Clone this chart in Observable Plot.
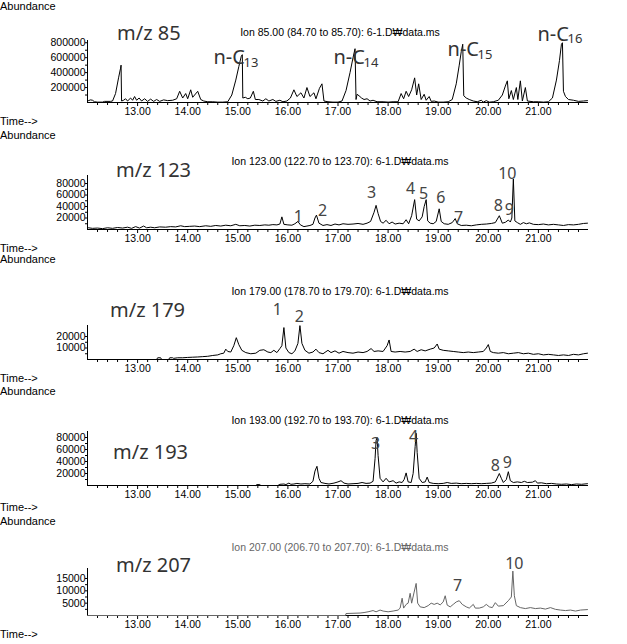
<!DOCTYPE html>
<html><head><meta charset="utf-8">
<script src="https://cdn.jsdelivr.net/npm/d3@7"></script>
<script src="https://cdn.jsdelivr.net/npm/@observablehq/plot@0.6"></script>
<style>
body{margin:0;background:#fff;}
#root{position:relative;width:627px;height:644px;overflow:hidden;background:#fff;}
.pl{position:absolute;left:0;}
.t{position:absolute;white-space:nowrap;line-height:1;}
</style></head>
<body><div id="root"></div>
<script>
// ---------- data ----------
const X_MAJOR = [13, 14, 15, 16, 17, 18, 19, 20, 21];
const X_LABELS = ["13.00","14.00","15.00","16.00","17.00","18.00","19.00","20.00","21.00"];
const X_MINOR = d3.range(61, 110).filter(i => i % 5 !== 0).map(i => i / 5);

const Y85 = [200000, 400000, 600000, 800000];
const Y123 = [20000, 40000, 60000, 80000];
const Y179 = [10000, 20000];
const Y193 = [20000, 40000, 60000, 80000];
const Y207 = [5000, 10000, 15000];

const mz85 = [[12.02,25000],[12.06,35000],[12.10,30000],[12.14,10000],[12.20,5000],[12.30,5000],[12.34,15000],[12.46,15000],[12.50,20000],
[12.56,120000],[12.62,330000],[12.66,460000],[12.67,500000],[12.68,20000],[12.72,30000],[12.76,50000],[12.80,20000],[12.86,60000],[12.90,30000],[12.94,80000],[12.98,30000],[13.03,60000],[13.08,20000],[13.14,50000],[13.20,15000],[13.26,45000],[13.32,15000],[13.38,40000],[13.44,15000],[13.52,35000],[13.60,25000],[13.70,30000],[13.78,50000],[13.84,150000],[13.90,60000],[13.96,120000],[14.00,50000],[14.06,170000],[14.10,70000],[14.20,150000],[14.26,40000],[14.32,20000],[14.40,10000],[14.50,10000],[14.60,5000],[14.70,5000],[14.80,10000],[14.88,100000],[14.96,300000],[15.02,480000],[15.07,620000],[15.09,640000],[15.10,60000],[15.15,70000],[15.20,50000],[15.25,60000],[15.31,150000],[15.35,40000],[15.42,40000],[15.50,20000],[15.56,50000],[15.62,20000],[15.70,40000],[15.76,15000],[15.84,30000],[15.90,10000],[15.98,20000],[16.05,60000],[16.12,170000],[16.18,80000],[16.26,130000],[16.32,60000],[16.38,200000],[16.44,80000],[16.52,130000],[16.56,50000],[16.63,190000],[16.68,250000],[16.72,20000],[16.80,10000],[16.90,5000],[17.00,5000],[17.08,20000],[17.16,160000],[17.24,400000],[17.30,600000],[17.34,720000],[17.36,40000],
[17.38,110000],[17.42,90000],[17.47,60000],[17.52,40000],[17.58,50000],[17.64,20000],[17.70,30000],[17.78,10000],[17.90,10000],[18.00,5000],[18.10,10000],[18.20,10000],[18.26,120000],[18.31,50000],[18.36,150000],[18.41,80000],[18.47,170000],[18.53,330000],[18.57,100000],[18.61,250000],[18.66,40000],[18.72,110000],[18.76,30000],[18.82,80000],[18.86,15000],[18.92,20000],[19.00,5000],[19.10,5000],[19.20,10000],[19.28,40000],[19.36,250000],[19.42,500000],[19.46,680000],[19.49,780000],[19.51,90000],[19.56,60000],[19.62,40000],[19.70,20000],[19.78,10000],[19.86,30000],[19.90,5000],[19.96,25000],[20.02,5000],[20.10,10000],[20.20,30000],[20.28,100000],[20.34,220000],[20.38,290000],[20.41,50000],[20.46,160000],[20.50,40000],[20.56,200000],[20.59,40000],[20.64,290000],[20.68,20000],[20.74,200000],[20.78,20000],[20.90,10000],[21.00,10000],[21.10,5000],[21.20,10000],[21.28,60000],[21.36,300000],[21.42,560000],[21.46,780000],[21.48,800000],[21.50,150000],[21.54,80000],[21.60,40000],[21.70,30000],[21.80,15000],[21.90,20000],[21.98,25000]];

const mz123 = [[12.02,3000],[12.10,2000],[12.20,2500],[12.30,1500],[12.40,3000],[12.50,2000],[12.60,3500],[12.70,2500],[12.80,4000],[12.88,2000],[12.96,5000],[13.04,2500],[13.12,6000],[13.18,3000],[13.26,4000],[13.34,3000],[13.44,4500],[13.56,4000],[13.66,5000],[13.76,4500],[13.86,6500],[13.94,5000],[14.04,5500],[14.14,6000],[14.24,5000],[14.36,6500],[14.46,5500],[14.56,7000],[14.66,6000],[14.76,7500],[14.86,6500],[14.96,9000],[15.04,6500],[15.14,7000],[15.24,6000],[15.34,7500],[15.44,7000],[15.54,8000],[15.62,7500],[15.70,8500],[15.78,8000],[15.84,9500],[15.88,22000],[15.92,9000],[16.00,8000],[16.08,7500],[16.14,10000],[16.20,14000],[16.25,8000],[16.32,5000],[16.38,6000],[16.44,7000],[16.50,9000],[16.54,20000],[16.57,25000],[16.62,11000],[16.70,7000],[16.78,8500],[16.86,7000],[16.94,9500],[17.02,8000],[17.10,10000],[17.20,9000],[17.30,9500],[17.40,10500],[17.50,9000],[17.58,11000],[17.65,14000],[17.72,30000],[17.76,42000],[17.80,28000],[17.85,14000],[17.90,11000],[17.96,16000],[18.02,10000],[18.08,13000],[18.14,9500],[18.22,11000],[18.30,10000],[18.36,17000],[18.41,10000],[18.47,24000],[18.53,52000],[18.57,18000],[18.62,15000],[18.68,22000],[18.72,40000],[18.76,52000],[18.79,15000],[18.84,11000],[18.90,10000],[18.96,14000],[19.02,36000],[19.06,14000],[19.12,10000],[19.20,9000],[19.28,12000],[19.34,19000],[19.38,10000],[19.46,7000],[19.56,7500],[19.66,6500],[19.76,8000],[19.86,9000],[19.96,9500],[20.06,10500],[20.14,12000],[20.22,24000],[20.28,11000],[20.34,12500],[20.40,16500],[20.44,13000],[20.47,20000],[20.50,88000],[20.53,15000],[20.58,12000],[20.64,9000],[20.70,12000],[20.76,10000],[20.82,11500],[20.90,9000],[21.00,8500],[21.10,9500],[21.20,8000],[21.30,9000],[21.40,8000],[21.50,7000],[21.60,8500],[21.70,8000],[21.80,9000],[21.90,10500],[21.98,11000]];

const mz179 = [[12.00,0],[13.38,0],[13.40,1500],[13.46,1500],[13.48,0],[13.62,0],[13.64,1500],[13.70,1500],[13.72,1000],[13.80,1500],[13.90,1500],[14.00,1800],[14.10,2000],[14.20,2200],[14.30,2500],[14.40,2800],[14.50,3500],[14.60,4000],[14.66,5000],[14.72,5500],[14.76,9000],[14.80,7000],[14.86,6500],[14.92,12000],[14.97,19000],[15.02,13000],[15.08,8000],[15.16,6000],[15.26,5000],[15.36,5500],[15.44,8000],[15.52,8500],[15.60,6500],[15.66,6000],[15.72,8000],[15.78,6000],[15.84,9500],[15.88,12000],[15.92,27800],[15.96,10000],[16.02,6000],[16.08,5000],[16.14,7500],[16.20,14000],[16.24,29500],[16.28,14000],[16.34,8000],[16.42,5500],[16.50,6500],[16.56,9000],[16.62,6000],[16.70,5000],[16.80,8000],[16.86,6000],[16.94,7500],[17.02,5500],[17.10,7000],[17.20,6000],[17.30,5500],[17.40,6500],[17.50,6000],[17.58,7000],[17.66,9500],[17.72,7000],[17.80,7500],[17.90,7000],[17.98,12000],[18.02,17000],[18.06,7000],[18.14,6500],[18.24,7000],[18.34,6500],[18.44,7000],[18.52,9000],[18.58,7000],[18.66,8500],[18.74,7500],[18.84,9000],[18.92,10000],[18.98,13500],[19.02,9000],[19.10,8000],[19.20,7500],[19.30,7000],[19.40,6500],[19.50,6000],[19.60,6500],[19.70,6000],[19.80,6500],[19.90,7000],[19.96,10000],[20.00,13000],[20.04,7000],[20.10,6000],[20.20,5500],[20.30,6000],[20.40,5000],[20.50,5500],[20.60,6000],[20.70,5000],[20.80,5500],[20.90,4500],[21.00,5000],[21.10,4000],[21.20,4500],[21.30,4000],[21.40,3500],[21.50,4000],[21.60,3500],[21.70,4500],[21.80,4000],[21.90,5000],[21.98,5500]];

const mz193 = [[12.00,0],[15.36,0],[15.38,1500],[15.44,1500],[15.46,0],[15.80,0],[15.84,2000],[15.92,2500],[15.96,1500],[16.02,4000],[16.06,2000],[16.12,2500],[16.18,3500],[16.26,2500],[16.34,3000],[16.44,2500],[16.50,7000],[16.54,24000],[16.58,32000],[16.62,12000],[16.66,5000],[16.74,3500],[16.82,2500],[16.92,4000],[17.00,6000],[17.06,8000],[17.12,4000],[17.20,2500],[17.30,3000],[17.40,3500],[17.48,5000],[17.56,3500],[17.64,4000],[17.70,7000],[17.74,45000],[17.76,75000],[17.78,80000],[17.80,50000],[17.84,12000],[17.90,6000],[17.96,12000],[18.02,6000],[18.10,8000],[18.16,4000],[18.22,6000],[18.28,5000],[18.32,10000],[18.36,21000],[18.40,6000],[18.46,5000],[18.50,20000],[18.54,65000],[18.56,87000],[18.58,55000],[18.62,12000],[18.68,5000],[18.74,6000],[18.78,14000],[18.82,5000],[18.90,3500],[19.00,3000],[19.10,3500],[19.18,5000],[19.26,3500],[19.36,4000],[19.46,3000],[19.56,3500],[19.66,3000],[19.76,3500],[19.86,3000],[19.96,3500],[20.06,4000],[20.14,6000],[20.22,20000],[20.26,12000],[20.30,5000],[20.36,10000],[20.40,23000],[20.44,8000],[20.50,5000],[20.58,6000],[20.66,5000],[20.72,7000],[20.78,5000],[20.88,5500],[20.94,8000],[20.98,4000],[21.06,4500],[21.16,3000],[21.26,3500],[21.36,2500],[21.46,2000],[21.56,2500],[21.66,1500],[21.76,2500],[21.86,2000],[21.98,3000]];

const mz207 = [[12.00,0],[17.15,0],[17.16,800],[17.30,900],[17.44,1000],[17.52,1200],[17.60,1500],[17.70,2000],[17.76,1500],[17.84,2200],[17.90,1800],[18.00,1500],[18.10,1800],[18.20,2200],[18.24,3000],[18.28,7000],[18.31,3000],[18.36,4500],[18.40,5000],[18.44,9000],[18.47,5000],[18.52,9500],[18.56,13000],[18.59,5000],[18.64,3500],[18.72,3200],[18.80,4000],[18.86,5000],[18.92,4500],[18.98,5000],[19.04,4300],[19.10,5500],[19.14,8000],[19.18,4200],[19.24,3500],[19.30,4500],[19.36,5500],[19.42,6000],[19.48,4500],[19.56,3500],[19.62,3000],[19.70,4500],[19.74,3000],[19.82,3000],[19.90,3500],[19.96,4500],[20.02,3500],[20.08,3200],[20.14,5200],[20.20,3800],[20.30,4000],[20.40,6000],[20.46,7500],[20.49,18000],[20.52,8000],[20.56,4000],[20.64,3200],[20.74,2800],[20.84,3200],[20.94,2800],[21.04,3000],[21.14,2600],[21.24,3200],[21.34,2500],[21.44,2200],[21.54,2000],[21.64,2200],[21.74,1800],[21.84,2200],[21.98,2400]];

// peak annotations
const alkaneLabels = [
  {t: 14.515, v: 600000, sub: "13"},
  {t: 16.910, v: 600000, sub: "14"},
  {t: 19.186, v: 706700, sub: "15"},
  {t: 20.982, v: 913300, sub: "16"}
];
const peaks123 = [
  {t:16.21,v:22600,n:"1"},{t:16.69,v:33000,n:"2"},{t:17.67,v:64300,n:"3"},{t:18.45,v:71300,n:"4"},
  {t:18.71,v:62600,n:"5"},{t:19.05,v:55600,n:"6"},{t:19.405,v:20900,n:"7"},{t:20.20,v:41700,n:"8"},
  {t:20.42,v:34800,n:"9"},{t:20.38,v:97400,n:"10"}
];
const peaks179 = [{t:15.79,v:43500,n:"1"},{t:16.23,v:37400,n:"2"}];
const peaks193 = [{t:17.75,v:70000,n:"3"},{t:18.51,v:81700,n:"4"},{t:20.14,v:33300,n:"8"},{t:20.38,v:38300,n:"9"}];
const peaks207 = [{t:19.385,v:12150,n:"7"},{t:20.52,v:21060,n:"10"}];

const ions = [
  "Ion 85.00 (84.70 to 85.70): 6-1.D\u20A9data.ms",
  "Ion 123.00 (122.70 to 123.70): 6-1.D\u20A9data.ms",
  "Ion 179.00 (178.70 to 179.70): 6-1.D\u20A9data.ms",
  "Ion 193.00 (192.70 to 193.70): 6-1.D\u20A9data.ms",
  "Ion 207.00 (206.70 to 207.70): 6-1.D\u20A9data.ms"
];
const mzTitles = ["m/z 85", "m/z 123", "m/z 179", "m/z 193", "m/z 207"];

// ---------- layout ----------
const LABEL_FONT = "'Noto Sans', 'Open Sans', sans-serif";
const AXIS_FONT = "'Liberation Sans', Arial, sans-serif";
const panels = [
  {data: mz85, yticks: Y85, ymax: 830000, top: 0, height: 128, yTop: 40, axisY: 102, stroke: "#000",
   abY: 6, timeY: 121, ionY: 32, ionColor: "#000", mzX: 117, mzY: 33, peaks: null},
  {data: mz123, yticks: Y123, ymax: 94000, top: 128, height: 125, yTop: 175, axisY: 229, stroke: "#000",
   abY: 135, timeY: 248, ionY: 161, ionColor: "#000", mzX: 116, mzY: 170, peaks: peaks123},
  {data: mz179, yticks: Y179, ymax: 29600, top: 253, height: 131, yTop: 325, axisY: 359, stroke: "#000",
   abY: 259, timeY: 378, ionY: 291, ionColor: "#000", mzX: 110, mzY: 310, peaks: peaks179},
  {data: mz193, yticks: Y193, ymax: 90000, top: 384, height: 130, yTop: 431, axisY: 485, stroke: "#000",
   abY: 391, timeY: 507, ionY: 420, ionColor: "#000", mzX: 113, mzY: 452, peaks: peaks193},
  {data: mz207, yticks: Y207, ymax: 19050, top: 514, height: 130, yTop: 568, axisY: 615, stroke: "#666",
   abY: 521, timeY: 634, ionY: 547, ionColor: "#666", mzX: 116, mzY: 565, peaks: peaks207}
];

const root = document.getElementById("root");
function addText(str, x, y, opts = {}) {
  const d = document.createElement("div");
  d.className = "t";
  d.textContent = str;
  d.style.left = x + "px";
  d.style.top = y + "px";
  d.style.fontSize = (opts.size || 11) + "px";
  d.style.fontFamily = opts.family || AXIS_FONT;
  d.style.color = opts.color || "#000";
  const tx = opts.anchor === "middle" ? "-50%" : opts.anchor === "end" ? "-100%" : "0";
  d.style.transform = `translate(${tx}, -50%)`;
  root.appendChild(d);
}

panels.forEach((p, i) => {
  const step = p.yticks[1] - p.yticks[0];
  const yminor = p.yticks.map(v => v - step / 2).filter(v => v > 0);
  const marks = [
    Plot.axisX(X_MINOR, {tickSize: 3, tickFormat: () => "", label: null}),
    Plot.axisX(X_MAJOR, {tickSize: 4, tickPadding: 1, tickFormat: d => X_LABELS[X_MAJOR.indexOf(d)], fontSize: 10.5, label: null}),
    Plot.axisY(yminor, {tickSize: 2, tickFormat: () => "", label: null}),
    Plot.axisY(p.yticks, {tickSize: 2, tickPadding: 0, tickFormat: d => String(d), fontSize: 10.5, label: null}),
    Plot.ruleY([0], {stroke: "#000"}),
    Plot.ruleX([12], {stroke: "#000"}),
    Plot.line(p.data, {x: d => d[0], y: d => d[1], stroke: p.stroke, strokeWidth: 1})
  ];
  if (i === 0) {
    marks.push(Plot.text(alkaneLabels, {x: "t", y: "v", text: () => "n-C", textAnchor: "start", lineAnchor: "middle", fontSize: 20, fontFamily: LABEL_FONT, fill: "#333"}));
    marks.push(Plot.text(alkaneLabels, {x: "t", y: "v", text: "sub", dx: 30, dy: 5, textAnchor: "start", lineAnchor: "middle", fontSize: 13, fontFamily: LABEL_FONT, fill: "#333"}));
  } else {
    marks.push(Plot.text(p.peaks, {x: "t", y: "v", text: "n", textAnchor: "middle", lineAnchor: "middle", fontSize: 16, fontFamily: LABEL_FONT, fill: "#444"}));
  }
  const svg = Plot.plot({
    width: 627, height: p.height,
    marginLeft: 87, marginRight: 39,
    marginTop: p.yTop - p.top, marginBottom: p.top + p.height - p.axisY,
    x: {domain: [12, 22]},
    y: {domain: [0, p.ymax]},
    style: {fontFamily: AXIS_FONT, fontSize: "10.5px", background: "transparent", overflow: "visible", color: "#000"},
    marks
  });
  svg.classList.add("pl");
  svg.style.top = p.top + "px";
  root.appendChild(svg);

  addText("Abundance", 0, p.abY, {size: 11});
  addText("Time-->", 0, p.timeY, {size: 11});
  addText(ions[i], 340, p.ionY, {size: 10.5, anchor: "middle", color: p.ionColor});
  addText(mzTitles[i], p.mzX, p.mzY, {size: 20, family: LABEL_FONT, color: "#333"});
});
</script></body></html>
